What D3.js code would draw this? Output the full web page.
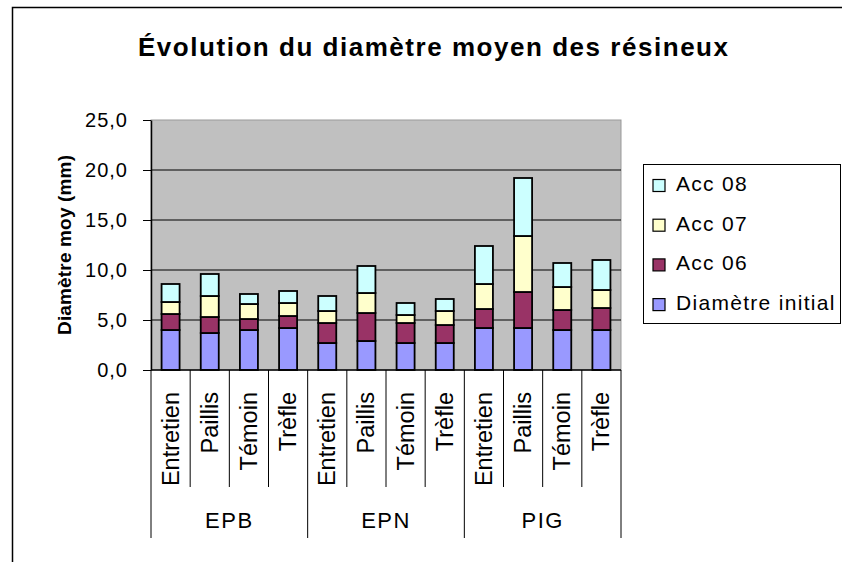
<!DOCTYPE html>
<html>
<head>
<meta charset="utf-8">
<script src="https://cdn.jsdelivr.net/npm/d3@7"></script>
<style>
  body { margin: 0; background: #fff; }
  text { font-family: Arial, "Liberation Sans", sans-serif; fill: #000; }
</style>
</head>
<body>
<svg id="chart" width="842" height="562"></svg>
<script>
// data
const groups = ["EPB", "EPN", "PIG"];
const treatments = ["Entretien", "Paillis", "Témoin", "Trèfle"];
const seriesNames = ["Diamètre initial", "Acc 06", "Acc 07", "Acc 08"];
const seriesColors = ["#9999ff", "#993366", "#ffffcc", "#ccffff"];

const diamInitial = [4.0, 3.7, 4.0, 4.2, 2.7, 2.9, 2.7, 2.7, 4.2, 4.2, 4.0, 4.0];
const acc06 = [1.6, 1.6, 1.1, 1.2, 2.0, 2.8, 2.0, 1.8, 1.9, 3.6, 2.0, 2.2];
const acc07 = [1.2, 2.1, 1.5, 1.3, 1.2, 2.0, 0.8, 1.4, 2.5, 5.6, 2.3, 1.8];
const acc08 = [1.8, 2.2, 1.0, 1.2, 1.5, 2.7, 1.2, 1.2, 3.8, 5.8, 2.4, 3.0];

const yTicks = [0, 5, 10, 15, 20, 25];

// build rows for d3.stack
const rows = [];
groups.forEach((g, gi) => {
    treatments.forEach((t, ti) => {
        const i = gi * treatments.length + ti;
        rows.push({
            key: g + "|" + t, group: g, treatment: t,
            "Diamètre initial": diamInitial[i],
            "Acc 06": acc06[i],
            "Acc 07": acc07[i],
            "Acc 08": acc08[i]
        });
    });
});

const svg = d3.select("#chart");
const plot = { left: 151, right: 621, top: 120, bottom: 370 };

// outer chart frame
svg.append("rect")
    .attr("x", 12.5).attr("y", 7.5)
    .attr("width", 840).attr("height", 570)
    .attr("fill", "none").attr("stroke", "#000").attr("stroke-width", 1.5);

// title
svg.append("text")
    .attr("x", 138).attr("y", 56)
    .attr("textLength", 590).attr("lengthAdjust", "spacing")
    .style("font-size", "26px").style("font-weight", "bold")
    .text("Évolution du diamètre moyen des résineux");

const x = d3.scaleBand()
    .domain(rows.map(d => d.key))
    .range([plot.left, plot.right])
    .paddingInner(0.54)
    .paddingOuter(0.27);

const y = d3.scaleLinear()
    .domain([0, 25])
    .range([plot.bottom, plot.top]);

const fr = d3.formatLocale({ decimal: ",", thousands: " ", grouping: [3], currency: ["", " €"] });
const fmt = fr.format(".1f");

// plot area
svg.append("rect")
    .attr("x", plot.left).attr("y", plot.top)
    .attr("width", plot.right - plot.left).attr("height", plot.bottom - plot.top)
    .attr("fill", "#c0c0c0").attr("stroke", "#999").attr("stroke-width", 1);

// gridlines
svg.append("g")
    .selectAll("line")
    .data(yTicks.filter(v => v > 0 && v < 25))
    .enter()
    .append("line")
    .attr("x1", plot.left).attr("x2", plot.right)
    .attr("y1", d => y(d)).attr("y2", d => y(d))
    .attr("stroke", "#000").attr("stroke-width", 1);

// stacked bars
const stacked = d3.stack().keys(seriesNames)(rows);

svg.append("g")
    .selectAll("g")
    .data(stacked)
    .enter()
    .append("g")
    .attr("fill", (d, i) => seriesColors[i])
    .selectAll("rect")
    .data(d => d)
    .enter()
    .append("rect")
    .attr("x", d => x(d.data.key))
    .attr("width", x.bandwidth())
    .attr("y", d => y(d[1]))
    .attr("height", d => y(d[0]) - y(d[1]))
    .attr("stroke", "#000")
    .attr("stroke-width", 1.8);

// y axis
const yAxis = svg.append("g")
    .attr("transform", `translate(${plot.left},0)`)
    .call(d3.axisLeft(y).tickValues(yTicks).tickFormat(fmt).tickSize(8).tickSizeOuter(0).tickPadding(15));
yAxis.select(".domain").attr("stroke", "#000").attr("stroke-width", 1.5);
yAxis.selectAll(".tick line").attr("stroke", "#000");
yAxis.selectAll(".tick text")
    .style("font-size", "20px").style("letter-spacing", "1px")
    .attr("font-family", null);

svg.append("text")
    .attr("transform", `translate(71,${(plot.top + plot.bottom) / 2}) rotate(-90)`)
    .attr("text-anchor", "middle")
    .attr("textLength", 180).attr("lengthAdjust", "spacing")
    .style("font-size", "19px").style("font-weight", "bold")
    .text("Diamètre moy (mm)");

// x axis: base line, category separators, group separators
const step = x.step();
const xa = svg.append("g");
xa.append("line")
    .attr("x1", plot.left).attr("x2", plot.right)
    .attr("y1", plot.bottom).attr("y2", plot.bottom)
    .attr("stroke", "#000").attr("stroke-width", 1.5);

const bounds = d3.range(rows.length + 1).map(i => plot.left + i * step);
xa.selectAll("line.sep")
    .data(bounds)
    .enter()
    .append("line")
    .attr("class", "sep")
    .attr("x1", d => d).attr("x2", d => d)
    .attr("y1", plot.bottom)
    .attr("y2", (d, i) => i % treatments.length === 0 ? 538 : 487)
    .attr("stroke", "#000").attr("stroke-width", 1);

xa.selectAll("text.cat")
    .data(rows)
    .enter()
    .append("text")
    .attr("class", "cat")
    .attr("transform", d => `translate(${x(d.key) + x.bandwidth() / 2 + 8},392) rotate(-90)`)
    .attr("text-anchor", "end")
    .style("font-size", "23.5px")
    .text(d => d.treatment);

xa.selectAll("text.grp")
    .data(groups)
    .enter()
    .append("text")
    .attr("class", "grp")
    .attr("x", (d, i) => plot.left + (i + 0.5) * step * treatments.length)
    .attr("y", 528)
    .attr("text-anchor", "middle")
    .style("font-size", "22px").style("letter-spacing", "1.5px")
    .text(d => d);

// legend
const lg = svg.append("g");
lg.append("rect")
    .attr("x", 643.5).attr("y", 164.5)
    .attr("width", 197).attr("height", 159)
    .attr("fill", "#fff").attr("stroke", "#000").attr("stroke-width", 1);

const legendItems = seriesNames.map((n, i) => ({ name: n, color: seriesColors[i] })).reverse();
const li = lg.selectAll("g.item")
    .data(legendItems)
    .enter()
    .append("g")
    .attr("class", "item")
    .attr("transform", (d, i) => `translate(0,${191 + i * 39.7})`);
li.append("rect")
    .attr("x", 653).attr("y", -11.5)
    .attr("width", 12).attr("height", 12)
    .attr("fill", d => d.color)
    .attr("stroke", "#000").attr("stroke-width", 1.2);
li.append("text")
    .attr("x", 676).attr("y", 0)
    .style("font-size", "21px").style("letter-spacing", "1.3px")
    .text(d => d.name);
</script>
</body>
</html>
